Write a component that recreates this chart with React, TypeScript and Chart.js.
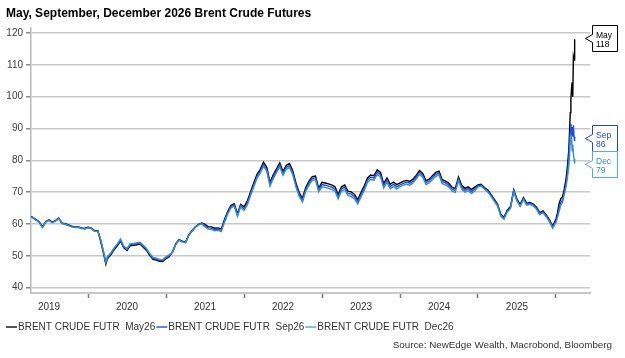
import { useEffect, useRef } from "react";
import { Chart, registerables } from "chart.js";

Chart.register(...registerables);

const TITLE = "May, September, December 2026 Brent Crude Futures";
const SOURCE = "Source: NewEdge Wealth, Macrobond, Bloomberg";
const seriesNames = ["BRENT CRUDE FUTR  May26", "BRENT CRUDE FUTR  Sep26", "BRENT CRUDE FUTR  Dec26"];
const endTags = ["May", "Sep", "Dec"];
const seriesColors = ["#000000", "#1f4fd8", "#3b8dc4"];
const legendColors = ["#1a1a1a", "#2a5ce0", "#5aaad8"];
const tagBorderColors = ["#000000", "#2346d0", "#5aaad6"];
const tagTextColors = ["#000000", "#2346d0", "#3a8fc0"];
const yTicks = [40, 50, 60, 70, 80, 90, 100, 110, 120];
const yearLabels = ["2019", "2020", "2021", "2022", "2023", "2024", "2025"];

const dates = [
  "2019-04-08", "2019-04-16", "2019-05-01", "2019-05-16", "2019-06-01", "2019-06-16", "2019-07-01", "2019-07-16", "2019-08-01", "2019-08-16", "2019-09-01", "2019-09-16", "2019-10-01", "2019-10-16", "2019-11-01", "2019-11-16", "2019-12-01", "2019-12-16",
  "2020-01-01", "2020-01-16", "2020-02-01", "2020-02-16", "2020-03-01", "2020-03-16", "2020-03-24", "2020-04-01", "2020-04-16", "2020-05-01", "2020-05-16", "2020-06-01", "2020-06-16", "2020-07-01", "2020-07-16", "2020-08-01", "2020-08-16", "2020-09-01", "2020-09-16", "2020-10-01", "2020-10-16", "2020-11-01", "2020-11-16", "2020-12-01", "2020-12-16",
  "2021-01-01", "2021-01-16", "2021-02-01", "2021-02-16", "2021-03-01", "2021-03-16", "2021-04-01", "2021-04-16", "2021-05-01", "2021-05-16", "2021-06-01", "2021-06-16", "2021-07-01", "2021-07-16", "2021-08-01", "2021-08-16", "2021-09-01", "2021-09-16", "2021-10-01", "2021-10-16", "2021-11-01", "2021-11-16", "2021-12-01", "2021-12-16",
  "2022-01-01", "2022-01-16", "2022-02-01", "2022-02-16", "2022-03-01", "2022-03-16", "2022-04-01", "2022-04-16", "2022-05-01", "2022-05-16", "2022-06-01", "2022-06-16", "2022-07-01", "2022-07-16", "2022-08-01", "2022-08-16", "2022-09-01", "2022-09-16", "2022-10-01", "2022-10-16", "2022-11-01", "2022-11-16", "2022-12-01", "2022-12-16",
  "2023-01-01", "2023-01-16", "2023-02-01", "2023-02-16", "2023-03-01", "2023-03-16", "2023-04-01", "2023-04-16", "2023-05-01", "2023-05-16", "2023-06-01", "2023-06-16", "2023-07-01", "2023-07-16", "2023-08-01", "2023-08-16", "2023-09-01", "2023-09-16", "2023-10-01", "2023-10-16", "2023-11-01", "2023-11-16", "2023-12-01", "2023-12-16",
  "2024-01-01", "2024-01-16", "2024-02-01", "2024-02-16", "2024-03-01", "2024-03-16", "2024-04-01", "2024-04-16", "2024-05-01", "2024-05-16", "2024-06-01", "2024-06-16", "2024-07-01", "2024-07-16", "2024-08-01", "2024-08-16", "2024-09-01", "2024-09-16", "2024-10-01", "2024-10-16", "2024-11-01", "2024-11-16", "2024-12-01", "2024-12-16",
  "2025-01-01", "2025-01-16", "2025-02-01", "2025-02-16", "2025-03-01", "2025-03-16", "2025-04-01", "2025-04-16", "2025-05-01", "2025-05-16", "2025-06-01", "2025-06-16", "2025-07-01", "2025-07-16", "2025-08-01", "2025-08-16", "2025-09-01", "2025-09-16", "2025-10-01", "2025-10-16", "2025-11-01", "2025-11-16", "2025-12-01", "2025-12-16",
  "2026-01-01", "2026-01-08", "2026-01-16", "2026-01-24", "2026-02-01", "2026-02-08", "2026-02-16", "2026-02-22", "2026-02-28", "2026-03-04", "2026-03-07", "2026-03-10", "2026-03-13", "2026-03-16", "2026-03-19", "2026-03-22", "2026-03-25", "2026-03-28",
];

const may26 = [
  62.3, 62.1, 61.4, 60.7, 59.1, 60.8, 61.3, 60.6, 61.1, 61.9, 60.3, 60.1, 59.7, 59.3, 59.1, 59.1, 58.8, 58.6, 59.0, 58.8, 57.9, 57.9,
  54.2, 49.9, 47.4, 49.2, 50.3, 51.9, 53.1, 54.7, 52.5, 51.7, 53.2, 53.3, 53.5, 53.7, 52.7, 51.7, 50.2, 48.9, 48.7, 48.3, 48.2, 49.1, 49.7,
  51.3, 53.9, 55.1, 54.6, 54.3, 56.6, 57.9, 59.1, 59.9, 60.3,
  59.9, 59.2, 59.1, 58.7, 58.8, 58.4, 61.4, 63.9, 65.9, 66.4, 63.2, 66.2,
  65.4, 67.1, 70.1, 73.1, 75.6, 77.1, 79.4, 77.8, 73.1, 75.4, 77.3, 79.2, 76.5, 78.4, 79.0, 76.8, 72.8, 69.8, 68.1, 71.4, 73.5, 74.9, 75.1, 71.3,
  73.1, 72.9, 72.6, 72.2, 71.7, 69.3, 71.7, 72.3, 70.3, 70.1, 69.3, 67.7, 69.9, 71.9, 74.5, 75.4, 75.2, 77.0, 76.2, 72.7, 74.5, 72.5, 73.2, 72.4,
  72.9, 73.4, 73.7, 73.4, 74.1, 75.3, 76.8, 75.9, 73.6, 74.1, 75.2, 76.2, 76.6, 73.9, 73.5, 72.9, 71.6, 71.1, 74.8, 72.2, 71.2, 71.7, 70.8, 71.6,
  72.3, 72.5, 71.5, 70.6, 69.3, 67.8, 66.3, 63.1, 62.1, 64.3, 65.5, 70.8, 67.8, 66.1, 68.3, 66.5, 66.8, 66.3, 65.3, 63.6, 64.1, 62.9, 61.3, 59.3, 61.6,
  63.5, 66.5, 68.0, 68.5, 70.8, 74.0, 78.0, 83.0, 89.5, 95.0, 99.0, 102.5, 104.5, 100.0, 112.5, 111.5, 118.0,
];

const sep26 = [
  62.2, 62.0, 61.3, 60.6, 59.0, 60.7, 61.2, 60.5, 61.0, 61.8, 60.2, 60.0, 59.6, 59.2, 59.0, 59.0, 58.7, 58.5, 58.9, 58.7, 57.8, 57.8,
  54.5, 50.2, 47.7, 49.5, 50.6, 52.2, 53.4, 55.0, 52.8, 52.0, 53.5, 53.6, 53.8, 54.0, 53.0, 52.0, 50.5, 49.2, 49.0, 48.6, 48.5, 49.4, 50.0,
  51.2, 53.8, 55.0, 54.5, 54.2, 56.5, 57.8, 59.0, 59.8, 60.2,
  59.5, 58.8, 58.7, 58.3, 58.4, 58.0, 61.0, 63.5, 65.5, 66.0, 62.8, 65.8,
  64.8, 66.5, 69.5, 72.5, 75.0, 76.5, 78.8, 77.2, 72.5, 74.8, 76.7, 78.6, 75.9, 77.8, 78.4, 76.2, 72.2, 69.2, 67.5, 70.8, 72.9, 74.3, 74.5, 70.7,
  72.4, 72.2, 71.9, 71.5, 71.0, 68.6, 71.0, 71.6, 69.6, 69.4, 68.6, 67.0, 69.2, 71.2, 73.8, 74.7, 74.5, 76.3, 75.5, 72.0, 73.8, 71.8, 72.5, 71.7,
  72.3, 72.8, 73.1, 72.8, 73.5, 74.7, 76.2, 75.3, 73.0, 73.5, 74.6, 75.6, 76.0, 73.3, 72.9, 72.3, 71.0, 70.5, 74.2, 71.6, 70.6, 71.1, 70.2, 71.0,
  72.0, 72.2, 71.2, 70.3, 69.0, 67.5, 66.0, 62.8, 61.8, 64.0, 65.2, 70.5, 67.5, 65.8, 68.0, 66.2, 66.5, 66.0, 65.0, 63.3, 63.8, 62.6, 61.0, 59.0, 61.0,
  62.5, 65.0, 66.8, 67.5, 69.8, 72.5, 76.0, 80.5, 85.5, 89.0, 91.5, 89.0, 90.5, 87.5, 91.0, 87.5, 86.0,
];

const dec26 = [
  62.1, 61.9, 61.2, 60.5, 58.9, 60.6, 61.1, 60.4, 60.9, 61.7, 60.1, 59.9, 59.5, 59.1, 58.9, 58.9, 58.6, 58.4, 58.8, 58.6, 57.7, 57.7,
  54.8, 50.5, 48.0, 49.8, 50.9, 52.5, 53.7, 55.3, 53.1, 52.3, 53.8, 53.9, 54.1, 54.3, 53.3, 52.3, 50.8, 49.5, 49.3, 48.9, 48.8, 49.7, 50.3,
  51.1, 53.7, 54.9, 54.4, 54.1, 56.4, 57.7, 58.9, 59.7, 60.1,
  59.1, 58.4, 58.3, 57.9, 58.0, 57.6, 60.6, 63.1, 65.1, 65.6, 62.4, 65.4,
  64.2, 65.9, 68.9, 71.9, 74.4, 75.9, 78.2, 76.6, 71.9, 74.2, 76.1, 78.0, 75.3, 77.2, 77.8, 75.6, 71.6, 68.6, 66.9, 70.2, 72.3, 73.7, 73.9, 70.1,
  71.7, 71.5, 71.2, 70.8, 70.3, 67.9, 70.3, 70.9, 68.9, 68.7, 67.9, 66.3, 68.5, 70.5, 73.1, 74.0, 73.8, 75.6, 74.8, 71.3, 73.1, 71.1, 71.8, 71.0,
  71.7, 72.2, 72.5, 72.2, 72.9, 74.1, 75.6, 74.7, 72.4, 72.9, 74.0, 75.0, 75.4, 72.7, 72.3, 71.7, 70.4, 69.9, 73.6, 71.0, 70.0, 70.5, 69.6, 70.4,
  71.7, 71.9, 70.9, 70.0, 68.7, 67.2, 65.7, 62.5, 61.5, 63.7, 64.9, 70.2, 67.2, 65.5, 67.7, 65.9, 66.2, 65.7, 64.7, 63.0, 63.5, 62.3, 60.7, 58.7, 60.5,
  62.0, 64.0, 66.0, 66.8, 69.0, 71.5, 74.5, 78.0, 82.0, 86.0, 85.0, 88.0, 83.0, 85.0, 82.0, 80.5, 79.0,
];

const FONT = "Arial, 'Liberation Sans', sans-serif";

function toYear(s: string): number {
  const [y, m, d] = s.split("-").map(Number);
  const dim = new Date(y, m, 0).getDate();
  return y + (m - 1) / 12 + (d - 1) / (dim * 12);
}

const seriesValues = [may26, sep26, dec26];

const decorPlugin = {
  id: "decor",
  beforeDraw(chart: any) {
    const ctx = chart.ctx;
    ctx.save();
    ctx.fillStyle = "#ffffff";
    ctx.fillRect(0, 0, chart.width, chart.height);
    ctx.restore();
  },
  afterDraw(chart: any) {
    const ctx = chart.ctx;
    ctx.save();
    // title
    ctx.fillStyle = "#000000";
    ctx.font = `bold 12px ${FONT}`;
    ctx.textBaseline = "alphabetic";
    ctx.textAlign = "left";
    ctx.fillText(TITLE, 6, 17);

    // legend
    ctx.font = `10px ${FONT}`;
    ctx.textBaseline = "middle";
    let x = 6;
    const ly = 327;
    seriesNames.forEach((name, i) => {
      ctx.strokeStyle = legendColors[i];
      ctx.lineWidth = 1.5;
      ctx.beginPath();
      ctx.moveTo(x, ly);
      ctx.lineTo(x + 11, ly);
      ctx.stroke();
      ctx.fillStyle = "#333333";
      ctx.fillText(name, x + 12, ly);
      x += 12 + ctx.measureText(name).width + 1;
    });

    // source
    ctx.textAlign = "right";
    ctx.fillStyle = "#333333";
    ctx.font = `9.8px ${FONT}`;
    ctx.fillText(SOURCE, 612, 345);

    // end tags
    const yScale = chart.scales.y;
    const H = 26;
    const tags = seriesValues.map((arr, i) => {
      const v = arr[arr.length - 1];
      return { i, v, c: yScale.getPixelForValue(v) };
    });
    const sorted = [...tags].sort((a, b) => a.c - b.c);
    for (let it = 0; it < 10; it++) {
      for (let k = 1; k < sorted.length; k++) {
        const gap = sorted[k].c - sorted[k - 1].c;
        if (gap < H) {
          const d = (H - gap) / 2;
          sorted[k - 1].c -= d;
          sorted[k].c += d;
        }
      }
    }
    const left = 592.5;
    const right = 617.5;
    const tip = 585.5;
    tags.forEach((t) => {
      const c = Math.round(t.c) - 0.5;
      const top = c - H / 2;
      const bottom = c + H / 2;
      ctx.beginPath();
      ctx.moveTo(left, top);
      ctx.lineTo(right, top);
      ctx.lineTo(right, bottom);
      ctx.lineTo(left, bottom);
      ctx.lineTo(left, c + 4);
      ctx.lineTo(tip, c);
      ctx.lineTo(left, c - 4);
      ctx.closePath();
      ctx.fillStyle = "#ffffff";
      ctx.fill();
      ctx.strokeStyle = tagBorderColors[t.i];
      ctx.lineWidth = 1;
      ctx.stroke();
      ctx.fillStyle = tagTextColors[t.i];
      ctx.font = `8.5px ${FONT}`;
      ctx.textAlign = "left";
      ctx.textBaseline = "alphabetic";
      ctx.fillText(endTags[t.i], left + 3.5, top + 12);
      ctx.fillText(String(Math.round(t.v)), left + 3.5, top + 21);
    });
    ctx.restore();
  },
};

export default function App() {
  const ref = useRef<HTMLCanvasElement>(null);
  useEffect(() => {
    const xs = dates.map(toYear);
    const datasets = seriesValues.map((arr, i) => ({
      label: seriesNames[i],
      data: arr.map((v, k) => ({ x: xs[k], y: v })),
      borderColor: seriesColors[i],
      backgroundColor: seriesColors[i],
      borderWidth: 1.4,
      pointRadius: 0,
      tension: 0,
      fill: false,
      order: 3 - i,
    }));
    const chart = new Chart(ref.current as HTMLCanvasElement, {
      type: "line",
      data: { datasets },
      options: {
        responsive: false,
        animation: false,
        devicePixelRatio: 1,
        layout: { padding: { left: 0, top: 28, right: 35, bottom: 35 } },
        plugins: {
          legend: { display: false },
          tooltip: { enabled: false },
          title: { display: false },
        },
        scales: {
          x: {
            type: "linear",
            min: 2019.269,
            max: 2026.436,
            afterBuildTicks: (scale: any) => {
              const t: number[] = [];
              yearLabels.forEach((y) => {
                t.push(Number(y) + 0.5);
                t.push(Number(y) + 1);
              });
              t.sort((a, b) => a - b);
              scale.ticks = t.map((v) => ({ value: v }));
            },
            afterFit: (scale: any) => {
              scale.height = 30;
            },
            grid: {
              drawOnChartArea: false,
              drawTicks: true,
              tickLength: 5,
              tickWidth: 1.5,
              tickColor: (ctx: any) =>
                ctx.tick && Number.isInteger(ctx.tick.value) ? "#7a7a7a" : "rgba(0,0,0,0)",
            },
            border: { display: true, color: "#c8c8c8", width: 2 },
            ticks: {
              autoSkip: false,
              maxRotation: 0,
              minRotation: 0,
              padding: 3,
              color: "#333333",
              font: { family: FONT, size: 10 },
              callback: (value: any) =>
                Number.isInteger(value) ? "" : String(Math.floor(Number(value))),
            },
          },
          y: {
            min: 38.34,
            max: 121.57,
            afterBuildTicks: (scale: any) => {
              scale.ticks = yTicks.map((v) => ({ value: v }));
            },
            afterFit: (scale: any) => {
              scale.width = 31;
            },
            grid: {
              color: "#c8c8c8",
              lineWidth: 1.5,
              tickLength: 5,
              tickColor: "#888888",
            },
            border: { display: true, color: "#b8b8b8", width: 1.5 },
            ticks: {
              padding: 3,
              color: "#404040",
              font: { family: FONT, size: 10 },
            },
          },
        },
      },
      plugins: [decorPlugin],
    } as any);
    return () => chart.destroy();
  }, []);
  return (
    <div style={{ position: "absolute", left: 0, top: 0, width: 625, height: 358, background: "#fff" }}>
      <canvas ref={ref} width={625} height={358} style={{ display: "block", width: 625, height: 358 }} />
    </div>
  );
}
